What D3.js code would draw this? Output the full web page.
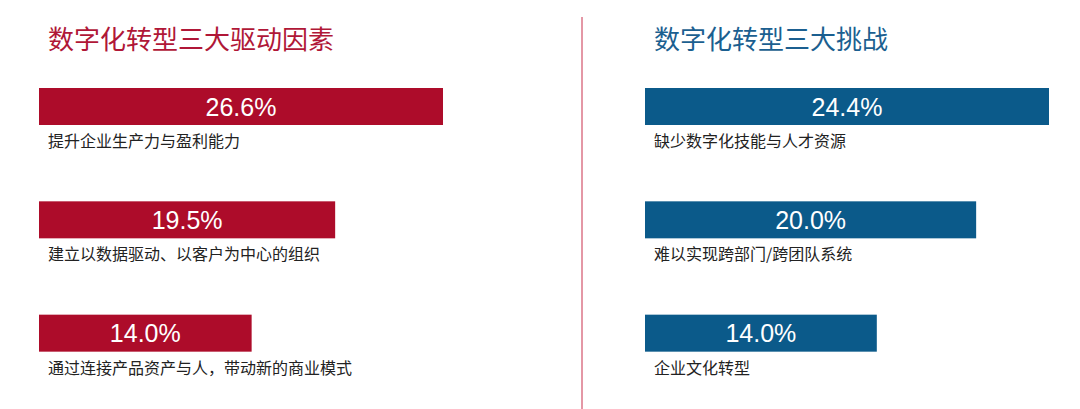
<!DOCTYPE html>
<html>
<head>
<meta charset="utf-8">
<script src="https://cdn.jsdelivr.net/npm/d3@7"></script>
<style>
  html, body { margin: 0; padding: 0; background: #fff; }
  svg { display: block; }
  text { font-family: "Liberation Sans", Arial, "Noto Sans CJK SC", sans-serif; }
  .cn { font-family: "Noto Sans CJK SC", "Liberation Sans", sans-serif; }
</style>
</head>
<body>
<svg></svg>
<script>
const driverTitle = "数字化转型三大驱动因素";
const driverLabels = ["提升企业生产力与盈利能力", "建立以数据驱动、以客户为中心的组织", "通过连接产品资产与人，带动新的商业模式"];
const driverValues = [26.6, 19.5, 14.0];

const challengeTitle = "数字化转型三大挑战";
const challengeLabels = ["缺少数字化技能与人才资源", "难以实现跨部门/跨团队系统", "企业文化转型"];
const challengeValues = [24.4, 20.0, 14.0];

const width = 1080;
const height = 409;
const svg = d3.select("svg")
              .attr("width", width)
              .attr("height", height);

const barW = 404;
const barH = 37;
const rows = d3.scaleBand().domain([0, 1, 2]).range([88, 428]).paddingInner(0);

function panel(x0, title, labels, values, barColor, titleColor) {
  const g = svg.append("g").attr("transform", "translate(" + x0 + ",0)");
  const x = d3.scaleLinear().domain([0, d3.max(values)]).range([0, barW]);

  g.append("text")
      .attr("class", "cn")
      .attr("x", 9)
      .attr("y", 49)
      .attr("fill", titleColor)
      .style("font-size", "26px")
      .text(title);

  const row = g.selectAll(".row")
      .data(values)
      .enter()
      .append("g")
        .attr("class", "row")
        .attr("transform", (d, i) => "translate(0," + rows(i) + ")");

  row.append("rect")
      .attr("width", d => x(d))
      .attr("height", barH)
      .attr("fill", barColor);

  row.append("text")
      .attr("x", d => x(d) / 2)
      .attr("y", barH / 2 + 9)
      .attr("text-anchor", "middle")
      .attr("fill", "#fff")
      .style("font-size", "25px")
      .text(d => d.toFixed(1) + "%");

  row.append("text")
      .attr("class", "cn")
      .attr("x", 9)
      .attr("y", barH + 22)
      .attr("fill", "#222")
      .style("font-size", "16px")
      .text((d, i) => labels[i]);
}

panel(39, driverTitle, driverLabels, driverValues, "#ad0c2a", "#b01737");
panel(645, challengeTitle, challengeLabels, challengeValues, "#0b5a8a", "#1b5f90");

svg.append("line")
    .attr("x1", 582).attr("x2", 582)
    .attr("y1", 17).attr("y2", height)
    .attr("stroke", "#c9304c")
    .attr("stroke-width", 1);
</script>
</body>
</html>
